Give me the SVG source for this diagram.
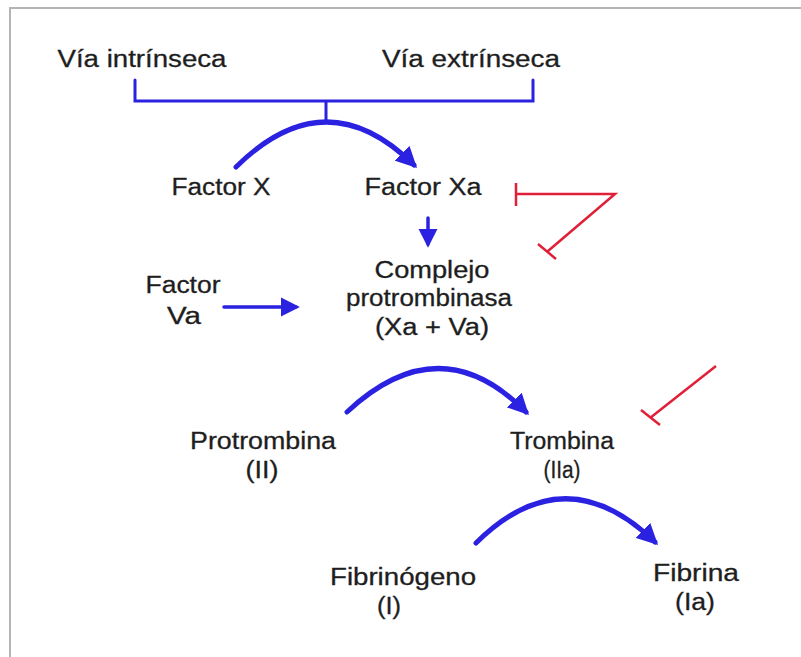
<svg xmlns="http://www.w3.org/2000/svg" width="801" height="657" viewBox="0 0 801 657">
<style>
text{font-family:"Liberation Sans",Arial,sans-serif;font-size:23px;fill:#1e1e1e;stroke:#1e1e1e;stroke-width:0.3;text-anchor:middle}
.b{fill:none;stroke:#2a22e0;stroke-linecap:round}
.r{fill:none;stroke:#e02038;stroke-width:2.5}
</style>
<defs>
<marker id="ah" viewBox="0 0 10 10" refX="8" refY="5" markerWidth="4.2" markerHeight="4.2" markerUnits="strokeWidth" orient="auto">
<path d="M0,0 L10,5 L0,10 z" fill="#2a22e0"/>
</marker>
<marker id="ah2" viewBox="0 0 10 10" refX="8" refY="5" markerWidth="5.5" markerHeight="5.5" markerUnits="strokeWidth" orient="auto">
<path d="M0,0 L10,5 L0,10 z" fill="#2a22e0"/>
</marker>
</defs>
<rect width="801" height="657" fill="#fff"/>
<path d="M10,657 V8 H801" fill="none" stroke="#b4b4b4" stroke-width="2"/>
<g id="via-intrinseca"><text x="142" y="67" textLength="169" lengthAdjust="spacingAndGlyphs">Vía intrínseca</text></g>
<g id="via-extrinseca"><text x="471" y="67" textLength="178" lengthAdjust="spacingAndGlyphs">Vía extrínseca</text></g>
<g id="factor-x"><text x="221" y="195" textLength="99" lengthAdjust="spacingAndGlyphs">Factor X</text></g>
<g id="factor-xa"><text x="423" y="195" textLength="117" lengthAdjust="spacingAndGlyphs">Factor Xa</text></g>
<g id="complejo">
<text x="432" y="278" textLength="115" lengthAdjust="spacingAndGlyphs">Complejo</text>
<text x="429" y="306" textLength="166" lengthAdjust="spacingAndGlyphs">protrombinasa</text>
<text x="432" y="335" textLength="114" lengthAdjust="spacingAndGlyphs">(Xa + Va)</text>
</g>
<g id="factor-va">
<text x="183" y="293" textLength="75" lengthAdjust="spacingAndGlyphs">Factor</text>
<text x="184" y="324" textLength="34" lengthAdjust="spacingAndGlyphs">Va</text>
</g>
<g id="protrombina">
<text x="263" y="449" textLength="146" lengthAdjust="spacingAndGlyphs">Protrombina</text>
<text x="262" y="478" textLength="33" lengthAdjust="spacingAndGlyphs">(II)</text>
</g>
<g id="trombina">
<text x="562" y="449" textLength="104" lengthAdjust="spacingAndGlyphs">Trombina</text>
<text x="562" y="478" textLength="37" lengthAdjust="spacingAndGlyphs">(IIa)</text>
</g>
<g id="fibrinogeno">
<text x="403" y="585" textLength="146" lengthAdjust="spacingAndGlyphs">Fibrinógeno</text>
<text x="389" y="614" textLength="24" lengthAdjust="spacingAndGlyphs">(I)</text>
</g>
<g id="fibrina">
<text x="696" y="581" textLength="86" lengthAdjust="spacingAndGlyphs">Fibrina</text>
<text x="695" y="610" textLength="40" lengthAdjust="spacingAndGlyphs">(Ia)</text>
</g>
<g id="connectors">
<path class="b" stroke-width="3" d="M135,80 V101 H533 V80 M326,101 V120"/>
<path class="b" stroke-width="5" d="M236,167 Q326,78 414,165" marker-end="url(#ah)"/>
<path class="b" stroke-width="3.5" d="M428,218 V244" marker-end="url(#ah2)"/>
<path class="b" stroke-width="3.5" d="M224,307 H296" marker-end="url(#ah2)"/>
<path class="b" stroke-width="5" d="M347,412 Q440,325 526,412" marker-end="url(#ah)"/>
<path class="b" stroke-width="5" d="M476,543 Q565,455 655,542" marker-end="url(#ah)"/>
<path class="r" d="M516,194 H615 L548,251 M516,183 V206 M538,244 L556,259"/>
<path class="r" d="M716,366 L650,418 M641,410 L660,425"/>
</g>
</svg>
